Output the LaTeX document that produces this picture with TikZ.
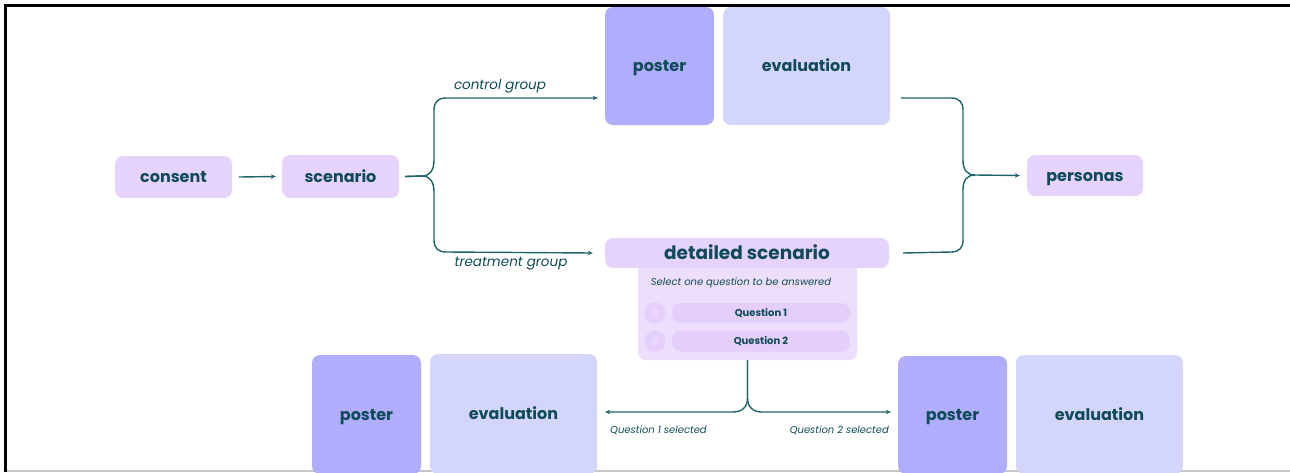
\documentclass[tikz,border=0pt]{standalone}
\usepackage{fontspec}
\setmainfont{Poppins}
\usetikzlibrary{arrows.meta,calc}
\definecolor{lav}{HTML}{E6D3FC}
\definecolor{postc}{HTML}{B0AEFC}
\definecolor{evalc}{HTML}{D4D5FC}
\definecolor{panelc}{HTML}{ECDEFC}
\definecolor{pillc}{HTML}{E3CFFA}
\definecolor{txt}{HTML}{0F4B57}
\definecolor{linec}{HTML}{21636B}
\tikzset{
  box/.style={rounded corners=8pt, inner sep=0pt, text=txt, text height=14.5pt, text depth=3pt, font=\bfseries\fontsize{16}{18}\selectfont},
  lavbox/.style={box, fill=lav},
  posterbox/.style={box, fill=postc, minimum width=109pt},
  evalbox/.style={box, fill=evalc, minimum width=167pt},
  conn/.style={draw=linec, line width=1.4pt, -{Stealth[length=5pt,width=4.5pt]}},
  plainconn/.style={draw=linec, line width=1.4pt},
  lab/.style={text=txt, font=\itshape\fontsize{13.5}{15}\selectfont, inner sep=0pt},
  smalllab/.style={text=txt, font=\itshape\fontsize{10}{12}\selectfont, inner sep=0pt},
  pill/.style={rounded corners=9pt, fill=pillc, inner sep=0pt, minimum width=178pt, text=txt, text height=8.5pt, text depth=2pt, font=\bfseries\fontsize{10}{12}\selectfont},
}
\begin{document}
\begin{tikzpicture}[x=1pt,y=-1pt]
\useasboundingbox (0,0) rectangle (1290,472);
% frame
\draw[black, line width=3pt] (4,5.5) -- (1290,5.5);
\draw[black, line width=3pt] (5.5,4) -- (5.5,472);
\draw[gray!45, line width=1.5pt] (7,470.8) -- (1290,470.8);

% main nodes
\node[lavbox, minimum width=117pt, minimum height=42pt] (consent) at (173.5,177) {consent};
\node[lavbox, minimum width=117pt, minimum height=43pt] (scenario) at (340.5,176.5) {scenario};
\node[lavbox, minimum width=116pt, minimum height=41pt] (personas) at (1085,175.5) {personas};

% top poster / evaluation
\node[posterbox, minimum height=118pt] (poster1) at (659.5,66) {poster};
\node[evalbox, minimum height=118pt] (eval1) at (806.5,66) {evaluation};

% panel + detailed scenario
\fill[panelc, rounded corners=8pt] (638,250) rectangle (857,360);
\coordinate (panelbottom) at (747.5,360);
\node[lavbox, minimum width=284pt, minimum height=30pt, text height=17pt, text depth=4pt, font=\bfseries\fontsize{18.5}{20}\selectfont] (detailed) at (747,253) {detailed scenario};
\node[smalllab] (select) at (741,283) {Select one question to be answered};
\node[pill, minimum height=20pt] (q1) at (761,313) {Question 1};
\node[pill, minimum height=21pt] (q2) at (761,341) {Question 2};
\fill[pillc] (655,313) circle (10.5);
\fill[panelc!60!pillc] (655,313) circle (4);
\fill[pillc] (655,341) circle (10.5);
\fill[panelc!60!pillc] (655,341) circle (4);

% bottom poster / evaluation
\node[posterbox, minimum height=119pt] (poster2) at (366.5,414.5) {poster};
\node[evalbox, minimum height=120pt] (eval2) at (513.5,414) {evaluation};
\node[posterbox, minimum height=118pt] (poster3) at (952.5,415) {poster};
\node[evalbox, minimum height=119pt] (eval3) at (1099.5,414.5) {evaluation};

% connectors
\draw[conn] ([xshift=7pt]consent.east) -- ([xshift=-6pt]scenario.west);
\draw[conn] ([xshift=6pt]scenario.east) -- (422,176) .. controls (430,176) and (434,170) .. (434,160) -- (434,110) .. controls (434,102) and (438,98) .. (446,98) -- ([xshift=-7pt]poster1.west |- 0,98);
\draw[conn] ([xshift=6pt]scenario.east) -- (422,176) .. controls (430,176) and (434,182) .. (434,192) -- (434,240) .. controls (434,248) and (438,252) .. (446,252) -- ([xshift=-12pt]detailed.west);
\node[lab] (cg) at (500,86) {control group};
\node[lab] (tg) at (511,264) {treatment group};

\draw[conn] ([xshift=11pt]eval1.east |- 0,98) -- (951,98) .. controls (959,98) and (963,102) .. (963,110) -- (963,160) .. controls (963,170) and (967,175) .. (975,175) -- ([xshift=-7pt]personas.west);
\draw[plainconn] ([xshift=14pt]detailed.east) -- (951,252) .. controls (959,252) and (963,248) .. (963,240) -- (963,190) .. controls (963,180) and (967,175) .. (975,175);

\draw[conn] (panelbottom) -- (747.5,398) .. controls (747.5,407) and (742,412) .. (733,412) -- ([xshift=8pt]eval2.east |- 0,412);
\draw[conn] (panelbottom) -- (747.5,398) .. controls (747.5,407) and (753,412) .. (762,412) -- ([xshift=-7pt]poster3.west |- 0,412);
\node[smalllab, anchor=west] (q1s) at (610,430) {Question 1 selected};
\node[smalllab, anchor=east] (q2s) at (889,430) {Question 2 selected};
\end{tikzpicture}
\end{document}
